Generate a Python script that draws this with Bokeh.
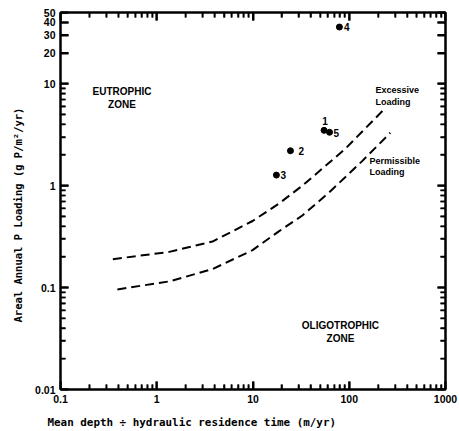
from bokeh.plotting import figure
from bokeh.models import LogAxis, FixedTicker, Title, ColumnDataSource
from bokeh.core.properties import value
from bokeh.embed import file_html
from bokeh.resources import INLINE

# ---- data ----
X_TICKS = [0.1, 1, 10, 100, 1000]
X_TICK_LABELS = ["0.1", "1", "10", "100", "1000"]
Y_TICKS = [0.01, 0.1, 1, 10, 20, 30, 40, 50]
Y_TICK_LABELS = ["0.01", "0.1", "1", "10", "20", "30", "40", "50"]

EXCESSIVE_X = [0.35, 1.35, 3.8, 9.9, 18.7, 32.6, 91, 221]
EXCESSIVE_Y = [0.19, 0.224, 0.283, 0.45, 0.67, 1.0, 2.3, 5.4]
PERMISSIBLE_X = [0.39, 1.35, 3.8, 9.9, 18.7, 32.6, 62, 137, 267]
PERMISSIBLE_Y = [0.096, 0.115, 0.152, 0.233, 0.358, 0.51, 0.86, 1.75, 3.3]

LAKE_IDS = ["1", "2", "3", "4", "5"]
LAKE_X = [54.7, 24.5, 17.5, 79, 62.4]
LAKE_Y = [3.49, 2.2, 1.27, 36, 3.34]

X_LABEL = "Mean depth \u00f7 hydraulic residence time (m/yr)"
Y_LABEL = "Areal Annual P Loading (g P/m\u00b2/yr)"

FONT = "Liberation Sans"
MONO = "DejaVu Sans Mono"
INK = "#000000"

X0, X1 = 0.1, 1000
Y0, Y1 = 0.01, 50
FW, FH = 385, 377

p = figure(x_axis_type="log", y_axis_type="log",
           x_range=(X0, X1), y_range=(Y0, Y1),
           frame_width=FW, frame_height=FH,
           min_border_left=58, min_border_right=16,
           min_border_top=12, min_border_bottom=42,
           output_backend="svg", toolbar_location=None)
p.grid.visible = False
p.outline_line_color = INK
p.outline_line_width = 2
p.background_fill_color = None
p.border_fill_color = "white"

x_minor = [k * 10.0 ** e for e in range(-1, 3) for k in range(2, 10)]
y_minor = [k * 10.0 ** e for e in range(-2, 1) for k in range(2, 10)]


def style_axis(ax, ticks, minor, labels):
    ax.ticker = FixedTicker(ticks=ticks, minor_ticks=minor)
    ax.axis_line_color = INK
    ax.axis_line_width = 2
    ax.major_tick_line_color = INK
    ax.major_tick_line_width = 2
    ax.minor_tick_line_color = INK
    ax.minor_tick_line_width = 1.6
    ax.major_tick_in = 8
    ax.major_tick_out = 0
    ax.minor_tick_in = 5
    ax.minor_tick_out = 0
    ax.major_label_overrides = {t: l for t, l in zip(ticks, labels)}
    ax.major_label_text_font = FONT
    ax.major_label_text_font_style = "bold"
    ax.major_label_text_font_size = "10.5px"
    ax.major_label_text_color = INK
    ax.major_label_standoff = 5


style_axis(p.xaxis[0], X_TICKS, x_minor, X_TICK_LABELS)
style_axis(p.yaxis[0], Y_TICKS, y_minor, Y_TICK_LABELS)

top = LogAxis()
style_axis(top, X_TICKS, x_minor, [""] * len(X_TICKS))
top.major_label_standoff = 0
top.major_label_text_font_size = "1px"
p.add_layout(top, "above")
right = LogAxis()
style_axis(right, Y_TICKS, y_minor, [""] * len(Y_TICKS))
right.major_label_standoff = 0
right.major_label_text_font_size = "1px"
p.add_layout(right, "right")

xt = Title(text=X_LABEL, align="left", offset=-13, standoff=16,
           text_font=MONO, text_font_style="bold", text_font_size="10.9px",
           text_color=INK)
p.add_layout(xt, "below")
yt = Title(text=Y_LABEL, align="left", offset=67, standoff=18,
           text_font=MONO, text_font_style="bold", text_font_size="10.5px",
           text_color=INK)
p.add_layout(yt, "left")

# inward tick marks drawn as small screen-sized rects just inside each frame edge
PX_X = FW / 4.0                         # pixels per decade along x
PX_Y = FH / (4 - 2 + 1.69897)           # pixels per decade along y


def ticks_x(xs, length, width):
    f = 10 ** (length / 2.0 / PX_Y)
    n = len(xs)
    p.rect(x=xs, y=[Y0 * f] * n, width=width, height=length,
           width_units="screen", height_units="screen",
           fill_color=INK, line_color=None)
    p.rect(x=xs, y=[Y1 / f] * n, width=width, height=length,
           width_units="screen", height_units="screen",
           fill_color=INK, line_color=None)


def ticks_y(ys, length, width):
    f = 10 ** (length / 2.0 / PX_X)
    n = len(ys)
    p.rect(x=[X0 * f] * n, y=ys, width=length, height=width,
           width_units="screen", height_units="screen",
           fill_color=INK, line_color=None)
    p.rect(x=[X1 / f] * n, y=ys, width=length, height=width,
           width_units="screen", height_units="screen",
           fill_color=INK, line_color=None)


ticks_x(X_TICKS, 8, 2)
ticks_x(x_minor, 5, 1.6)
ticks_y(Y_TICKS, 8, 2)
ticks_y(y_minor, 5, 1.6)

# curves
p.line(EXCESSIVE_X, EXCESSIVE_Y, line_color=INK, line_width=2, line_dash="9 5")
p.line(PERMISSIBLE_X, PERMISSIBLE_Y, line_color=INK, line_width=2, line_dash="9 5")

# lakes
src = ColumnDataSource(dict(x=LAKE_X, y=LAKE_Y, t=LAKE_IDS,
                            dx=[1, 8, 4, 4.5, 4], dy=[-9, 0, 0, 0, 1],
                            al=["center", "left", "left", "left", "left"]))
p.scatter("x", "y", source=src, size=6, color=INK)
p.text("x", "y", text="t", source=src, x_offset="dx", y_offset="dy",
       text_align="al", text_baseline="middle",
       text_font=value(FONT), text_font_style="bold", text_font_size="10px",
       text_color=INK)

# zone & curve annotations
p.text(x=[0.435, 0.435, 81, 81], y=[8.4, 6.3, 0.042, 0.0316],
       text=["EUTROPHIC", "ZONE", "OLIGOTROPHIC", "ZONE"],
       text_align="center", text_baseline="middle",
       text_font=value(FONT), text_font_style="bold", text_font_size="10px",
       text_color=INK)
p.text(x=[187.5, 187.5, 162, 162], y=[8.6, 6.6, 1.76, 1.36],
       text=["Excessive", "Loading", "Permissible", "Loading"],
       text_align="left", text_baseline="middle",
       text_font=value(FONT), text_font_style="bold", text_font_size="9px",
       text_color=INK)

open("out.html", "w").write(file_html(p, INLINE))
